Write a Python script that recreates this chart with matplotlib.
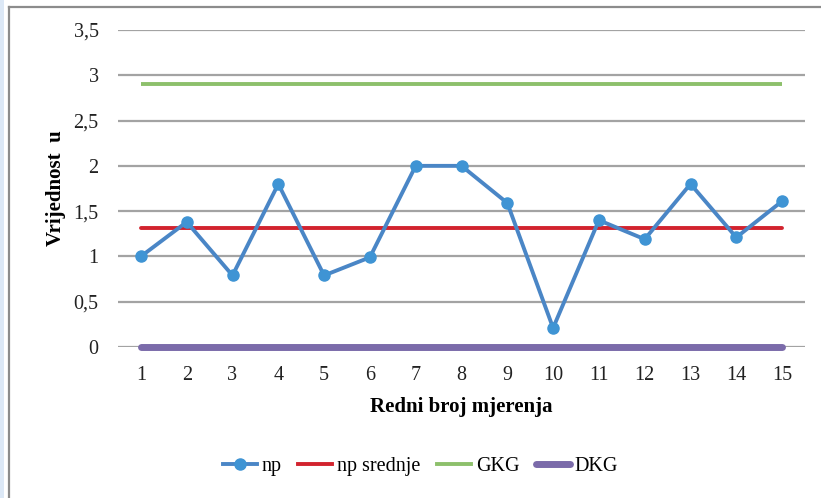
import numpy as np
import matplotlib.pyplot as plt
from matplotlib.lines import Line2D
from matplotlib.patches import Rectangle
from matplotlib.ticker import FuncFormatter

plt.rcParams['font.family'] = ['Liberation Serif', 'DejaVu Serif']

# data
mjerenja   = list(range(1, 16))
np_vals    = [1.0, 1.38, 0.79, 1.8, 0.79, 0.99, 2.0, 2.0, 1.59, 0.21, 1.4, 1.19, 1.8, 1.21, 1.61]
np_srednje = [1.31] * 15
gkg        = [2.9] * 15
dkg        = [0.0] * 15

fig = plt.figure(figsize=(8.21, 4.98), dpi=100)
ax = fig.add_axes([118/821, 1 - 347/498, (805 - 118)/821, (347 - 30)/498])

ax.plot(mjerenja, dkg, color='#7B6BAA', linewidth=5.0, solid_capstyle='round', label='DKG',
        zorder=3, clip_on=False)
ax.plot(mjerenja, gkg, color='#8DC06B', linewidth=2.8, solid_capstyle='butt', label='GKG', zorder=3)
ax.plot(mjerenja, np_srednje, color='#D2232E', linewidth=2.8, solid_capstyle='round', label='np srednje', zorder=4)
ax.plot(mjerenja, np_vals, color='#4A86C6', linewidth=2.8, marker='o', markersize=8,
        markerfacecolor='#3F94D4', markeredgecolor='#3F94D4', label='np', zorder=5)

ax.set_xlim(0.5, 15.5)
ax.set_ylim(0, 3.5)
ax.set_xticks(mjerenja)
ax.set_yticks(np.arange(0, 3.51, 0.5))
ax.yaxis.set_major_formatter(FuncFormatter(lambda v, p: f'{v:g}'.replace('.', ',')))
ax.tick_params(axis='both', length=0, labelsize=14.5, colors='#222222')
ax.tick_params(axis='y', pad=14)
ax.tick_params(axis='x', pad=14)
for s in ax.spines.values():
    s.set_visible(False)
ax.grid(axis='y', color='#A3A3A3', linewidth=1.6)
ax.set_axisbelow(True)

ax.set_xlabel('Redni broj mjerenja', fontsize=15, fontweight='bold')
ax.set_ylabel('Vrijednost  u', fontsize=15, fontweight='bold')
ax.xaxis.set_label_coords(0.5, -(407 - 347)/317, transform=ax.transAxes)
ax.yaxis.set_label_coords(-(118 - 56)/687, 0.5, transform=ax.transAxes)
ax.xaxis.label.set_va('center')
ax.yaxis.label.set_va('center')

handles = [Line2D([], [], color='#4A86C6', linewidth=2.8, marker='o', markersize=8,
                  markerfacecolor='#3F94D4', markeredgecolor='#3F94D4'),
           Line2D([], [], color='#D2232E', linewidth=2.8),
           Line2D([], [], color='#8DC06B', linewidth=2.8),
           Line2D([], [], color='#7B6BAA', linewidth=5.0, solid_capstyle='round')]
fig.legend(handles, ['np', 'np srednje', 'GKG', 'DKG'], loc='center',
           bbox_to_anchor=(0.512, 1 - 466/498), ncol=4, frameon=False,
           fontsize=14.5, handlelength=1.7, handletextpad=0.25, columnspacing=0.8)

# outer frame like the source
fig.add_artist(Rectangle((0, 0), 4/821, 1, transform=fig.transFigure,
                         facecolor='#DCE8F6', edgecolor='none'))
fig.add_artist(Line2D([8.5/821, 8.5/821], [0, 1 - 7.5/498], transform=fig.transFigure,
                      color='#8C8C8C', linewidth=1.6))
fig.add_artist(Line2D([8.5/821, 1], [1 - 7.5/498, 1 - 7.5/498], transform=fig.transFigure,
                      color='#8C8C8C', linewidth=1.6))

fig.savefig('out.png', dpi=100)
